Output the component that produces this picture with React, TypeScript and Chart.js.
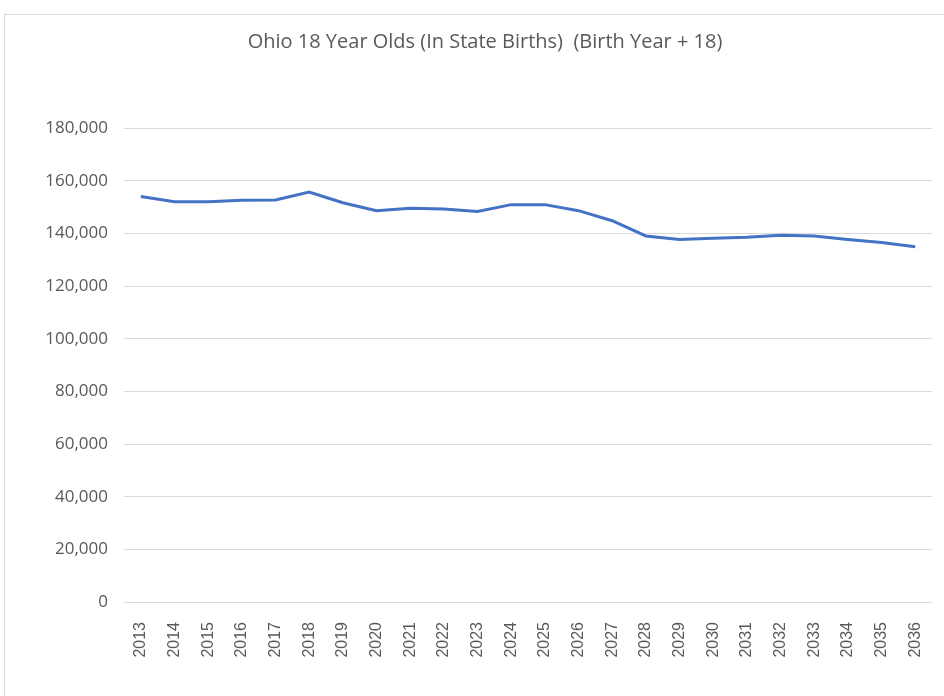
import React, { useEffect, useRef } from "react";
import { Chart, registerables } from "chart.js";

Chart.register(...registerables);

const TITLE = "Ohio 18 Year Olds (In State Births)  (Birth Year + 18)";
const YEARS = [
  "2013", "2014", "2015", "2016", "2017", "2018", "2019", "2020", "2021", "2022", "2023", "2024",
  "2025", "2026", "2027", "2028", "2029", "2030", "2031", "2032", "2033", "2034", "2035", "2036",
];
const EIGHTEEN_YEAR_OLDS = [
  154000, 152000, 152000, 152600, 152700, 155700, 151600, 148600, 149500, 149200, 148300, 150900,
  150900, 148600, 144800, 139000, 137700, 138100, 138500, 139300, 139000, 137700, 136500, 134900,
];
const Y_MIN = 0;
const Y_MAX = 180000;
const Y_STEP = 20000;

export default function App() {
  const ref = useRef<HTMLCanvasElement | null>(null);

  useEffect(() => {
    if (!ref.current) return;
    const titlePlugin = {
      id: "centerTitle",
      afterDraw(chart: any) {
        const ctx = chart.ctx;
        ctx.save();
        ctx.font = "20px 'Open Sans'";
        ctx.fillStyle = "#595959";
        ctx.textAlign = "center";
        ctx.textBaseline = "middle";
        ctx.fillText(TITLE, 481, 28);
        ctx.restore();
      },
    };
    const chart = new Chart(ref.current, {
      type: "line",
      data: {
        labels: YEARS,
        datasets: [
          {
            data: EIGHTEEN_YEAR_OLDS,
            borderColor: "#4472C4",
            backgroundColor: "#4472C4",
            borderWidth: 3,
            pointRadius: 0,
            tension: 0,
            fill: false,
          },
        ],
      },
      options: {
        animation: false,
        responsive: false,
        maintainAspectRatio: false,
        layout: { padding: { top: 114, right: 32, left: 0, bottom: 0 } },
        plugins: {
          legend: { display: false },
          title: { display: false },
          tooltip: { enabled: false },
        },
        scales: {
          x: {
            offset: true,
            grid: { display: false },
            border: { display: false },
            ticks: {
              minRotation: 90,
              maxRotation: 90,
              autoSkip: false,
              padding: 12,
              color: "#595959",
              font: { family: "'Liberation Sans'", size: 16 },
            },
            afterFit(scale: any) {
              scale.height = 94;
            },
          },
          y: {
            min: Y_MIN,
            max: Y_MAX,
            grid: { color: "#d9d9d9", lineWidth: 1, drawTicks: false },
            border: { display: false },
            ticks: {
              stepSize: Y_STEP,
              padding: 16,
              color: "#595959",
              font: { family: "'Open Sans'", size: 17 },
              callback: (v: any) => Number(v).toLocaleString("en-US"),
            },
            afterFit(scale: any) {
              scale.width = 120;
            },
          },
        },
      },
      plugins: [titlePlugin],
    });
    return () => chart.destroy();
  }, []);

  return (
    <div
      style={{
        position: "absolute",
        left: 0,
        top: 0,
        width: 944,
        height: 696,
        overflow: "hidden",
        background: "#ffffff",
      }}
    >
      <div
        style={{
          position: "absolute",
          left: 4,
          top: 14,
          width: 960,
          height: 682,
          borderLeft: "1px solid #d9d9d9",
          borderTop: "1px solid #d9d9d9",
          boxSizing: "border-box",
        }}
      >
        <canvas ref={ref} width={960} height={682} style={{ display: "block", position: "absolute", left: -1, top: -1 }} />
      </div>
    </div>
  );
}
